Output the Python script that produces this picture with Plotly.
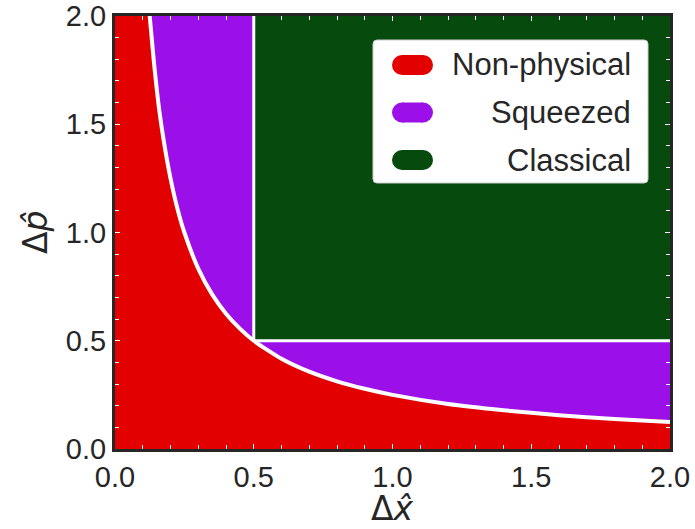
import plotly.graph_objects as go

# ---- data ----
axis_range = [0.0, 2.0]
tick_vals = [0.0, 0.5, 1.0, 1.5, 2.0]
tick_text = ["0.0", "0.5", "1.0", "1.5", "2.0"]
# uncertainty bound curve (Δx·Δp = 1/4)
bound_dx = [0.125, 0.14, 0.16, 0.18, 0.2, 0.225, 0.25, 0.3, 0.35, 0.4, 0.45, 0.5,
            0.6, 0.7, 0.8, 0.9, 1.0, 1.2, 1.4, 1.6, 1.8, 2.0]
bound_dp = [2.0, 1.79, 1.56, 1.39, 1.25, 1.11, 1.0, 0.833, 0.714, 0.625, 0.556, 0.5,
            0.417, 0.357, 0.3125, 0.278, 0.25, 0.208, 0.179, 0.156, 0.139, 0.125]
classical_dx = 0.5
classical_dp = 0.5
region_names = ["Non-physical", "Squeezed", "Classical"]
region_colors = ["#e30000", "#9b10e8", "#064a0e"]

lo, hi = axis_range
# ---- region polygons ----
purple_x = [lo, hi, hi, lo, lo]
purple_y = [lo, lo, hi, hi, lo]
red_x = [lo, lo] + bound_dx + [hi, lo]
red_y = [lo, hi] + bound_dp + [lo, lo]
green_x = [classical_dx, hi, hi, classical_dx, classical_dx]
green_y = [classical_dp, classical_dp, hi, hi, classical_dp]

fig = go.Figure()
for xs, ys, c, n, shp in [(purple_x, purple_y, region_colors[1], region_names[1], "linear"),
                          (red_x, red_y, region_colors[0], region_names[0], "spline"),
                          (green_x, green_y, region_colors[2], region_names[2], "linear")]:
    fig.add_trace(go.Scatter(x=xs, y=ys, fill="toself", fillcolor=c, mode="lines",
                             line=dict(width=0, color=c, shape=shp, smoothing=0.6),
                             name=n, showlegend=False, hoverinfo="skip"))

fig.add_trace(go.Scatter(x=bound_dx, y=bound_dp, mode="lines",
                         line=dict(color="white", width=4, shape="spline", smoothing=0.6),
                         showlegend=False, hoverinfo="skip"))
fig.add_trace(go.Scatter(x=[classical_dx, classical_dx, None, classical_dx, hi],
                         y=[hi, classical_dp, None, classical_dp, classical_dp], mode="lines",
                         line=dict(color="white", width=3), showlegend=False, hoverinfo="skip"))

# ---- layout geometry (pixels) ----
W, H = 695, 529
L, R, T, B = 115, 670, 16, 449

def px(xp):
    return (xp - L) / (R - L)

def py(yp):
    return (B - yp) / (B - T)

FONT = "Liberation Sans, Arial"
axis_common = dict(range=axis_range, showline=True, mirror="allticks", linewidth=3,
                   linecolor="#262626", ticks="inside", tickcolor="white", ticklen=5,
                   tickwidth=1, showgrid=False, zeroline=False, tickvals=tick_vals,
                   ticktext=tick_text, tickfont=dict(size=29, color="#262626", family=FONT),
                   automargin=False,
                   minor=dict(dtick=0.1, ticks="inside", ticklen=4, tickcolor="white",
                              showgrid=False))

shapes = []
# legend box with rounded corners
bx0, bx1, by0, by1, r = 373, 648, 40, 183, 4
path = (f"M {px(bx0+r)} {py(by0)} L {px(bx1-r)} {py(by0)} Q {px(bx1)} {py(by0)} {px(bx1)} {py(by0+r)} "
        f"L {px(bx1)} {py(by1-r)} Q {px(bx1)} {py(by1)} {px(bx1-r)} {py(by1)} "
        f"L {px(bx0+r)} {py(by1)} Q {px(bx0)} {py(by1)} {px(bx0)} {py(by1-r)} "
        f"L {px(bx0)} {py(by0+r)} Q {px(bx0)} {py(by0)} {px(bx0+r)} {py(by0)} Z")
shapes.append(dict(type="path", xref="paper", yref="paper", path=path,
                   fillcolor="white", line=dict(color="#cccccc", width=1), layer="above"))

annotations = []
centers = [65, 112.5, 160]
for c, col, name in zip(centers, region_colors, region_names):
    x0, x1, h = 392, 433, 20
    rr = h / 2
    shapes.append(dict(type="rect", xref="paper", yref="paper", x0=px(x0 + rr), x1=px(x1 - rr),
                       y0=py(c + rr), y1=py(c - rr), fillcolor=col, line=dict(width=0), layer="above"))
    for cx in (x0 + rr, x1 - rr):
        shapes.append(dict(type="circle", xref="paper", yref="paper", x0=px(cx - rr), x1=px(cx + rr),
                           y0=py(c + rr), y1=py(c - rr), fillcolor=col, line=dict(width=0),
                           layer="above"))
    annotations.append(dict(xref="paper", yref="paper", x=px(633), y=py(c), text=name,
                            showarrow=False, xanchor="right", yanchor="middle",
                            font=dict(size=31, color="#262626", family=FONT)))

annotations.append(dict(xref="paper", yref="paper", x=px(392), y=py(508), text="Δ<i>x̂</i>",
                        showarrow=False, xanchor="center", yanchor="middle",
                        font=dict(size=33, color="#262626", family="DejaVu Sans")))
annotations.append(dict(xref="paper", yref="paper", x=px(36), y=py(232), text="Δ<i>p̂</i>",
                        showarrow=False, xanchor="center", yanchor="middle", textangle=-90,
                        font=dict(size=33, color="#262626", family="DejaVu Sans")))

fig.update_layout(width=W, height=H, margin=dict(l=L, r=W - R, t=T, b=H - B),
                  paper_bgcolor="white", plot_bgcolor="white",
                  xaxis=axis_common, yaxis=axis_common, shapes=shapes, annotations=annotations,
                  showlegend=False)
fig.write_html("out.html")
